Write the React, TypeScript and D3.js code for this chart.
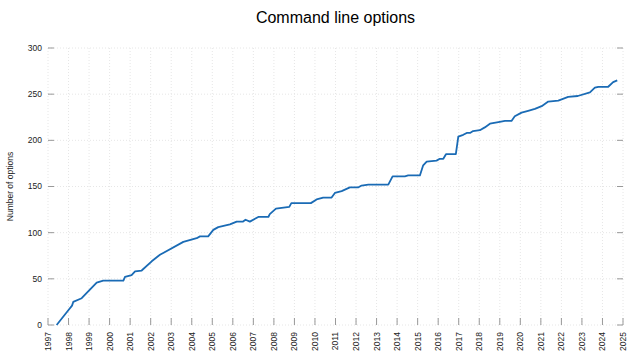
import React from "react";
import * as d3 from "d3";

const dates: number[] = [
  1997.42, 1997.99, 1998.17, 1998.23, 1998.64, 1999.37, 1999.69, 2000.67, 2000.75,
  2001.07, 2001.24, 2001.56, 2002.05, 2002.45, 2002.61, 2003.59, 2004.24, 2004.4,
  2004.8, 2005.05, 2005.29, 2005.86, 2006.19, 2006.5, 2006.62, 2006.83, 2007.24,
  2007.73, 2007.8, 2008.1, 2008.75, 2008.85, 2009.8, 2010.08, 2010.4, 2010.81,
  2010.97, 2011.3, 2011.7, 2012.1, 2012.27, 2012.6, 2012.8, 2013.57, 2013.78,
  2014.38, 2014.54, 2015.11, 2015.27, 2015.44, 2015.92, 2016.08, 2016.25, 2016.38,
  2016.86, 2016.98, 2017.22, 2017.39, 2017.55, 2017.7, 2018.03, 2018.27, 2018.52,
  2019.0, 2019.25, 2019.57, 2019.73, 2020.06, 2020.38, 2020.71, 2021.04, 2021.36,
  2021.85, 2022.33, 2022.8, 2023.39, 2023.63, 2023.8, 2024.28, 2024.52, 2024.72,
];
const counts: number[] = [
  0, 16, 21, 25, 29, 46, 48, 48, 52,
  54, 58, 59, 69, 76, 78, 90, 94, 96,
  96, 103, 106, 109, 112, 112, 114, 112, 117,
  117, 120, 126, 128, 132, 132, 136, 138, 138,
  143, 145, 149, 149, 151, 152, 152, 152, 161,
  161, 162, 162, 173, 177, 178, 180, 180, 185,
  185, 204, 206, 208, 208, 210, 211, 214, 218,
  220, 221, 221, 226, 230, 232, 234, 237, 242,
  243, 247, 248, 252, 257, 258, 258, 263, 265,
];
const yearTicks: number[] = d3.range(1997, 2026);
const yTicks: number[] = [0, 50, 100, 150, 200, 250, 300];
const title = "Command line options";
const yLabel = "Number of options";

export default function App() {
  const W = 640, H = 360;
  const left = 48, right = 623, top = 48, bottom = 325;
  const x = d3.scaleLinear().domain([1997, 2025]).range([left, right]);
  const y = d3.scaleLinear().domain([0, 300]).range([bottom, top]);
  const pts: [number, number][] = dates.map((d, i) => [d, counts[i]]);
  const line = d3.line<[number, number]>().x((d) => x(d[0])).y((d) => y(d[1]));
  const font = "Liberation Sans, Arial, sans-serif";
  const gridColor = "#e6e6e6";
  const tickColor = "#999";
  return (
    <svg width={W} height={H} style={{ position: "absolute", left: 0, top: 0, background: "#fff" }} fontFamily={font}>
      <rect x={0} y={0} width={W} height={H} fill="#fff" />
      {yearTicks.map((t) => (
        <line key={"gx" + t} x1={x(t)} x2={x(t)} y1={top} y2={bottom} stroke={gridColor} strokeWidth={1} strokeDasharray="1,2" />
      ))}
      {yTicks.map((t) => (
        <line key={"gy" + t} x1={left} x2={right} y1={y(t)} y2={y(t)} stroke={gridColor} strokeWidth={1} strokeDasharray="1,2" />
      ))}
      {yTicks.map((t) => (
        <g key={"ty" + t}>
          <line x1={left} x2={left + 6} y1={y(t)} y2={y(t)} stroke={tickColor} strokeWidth={1} />
          <line x1={right - 6} x2={right} y1={y(t)} y2={y(t)} stroke={tickColor} strokeWidth={1} />
          <text x={left - 6} y={y(t)} dy="0.35em" textAnchor="end" fontSize={8.5} fill="#222">{t}</text>
        </g>
      ))}
      {yearTicks.map((t) => (
        <g key={"tx" + t}>
          <line x1={x(t)} x2={x(t)} y1={bottom} y2={bottom - 7} stroke={tickColor} strokeWidth={1} />
          <text transform={`translate(${x(t)},${bottom + 7}) rotate(-90)`} dy="0.35em" textAnchor="end" fontSize={8.5} fill="#222">{t}</text>
        </g>
      ))}
      <path d={line(pts) || ""} fill="none" stroke="#1a6bb5" strokeWidth={1.8} strokeLinejoin="round" />
      <text x={(left + right) / 2} y={23} textAnchor="middle" fontSize={16} fill="#000">{title}</text>
      <text transform={`translate(10,${(top + bottom) / 2}) rotate(-90)`} textAnchor="middle" dy="0.35em" fontSize={8.5} fill="#222">{yLabel}</text>
    </svg>
  );
}
